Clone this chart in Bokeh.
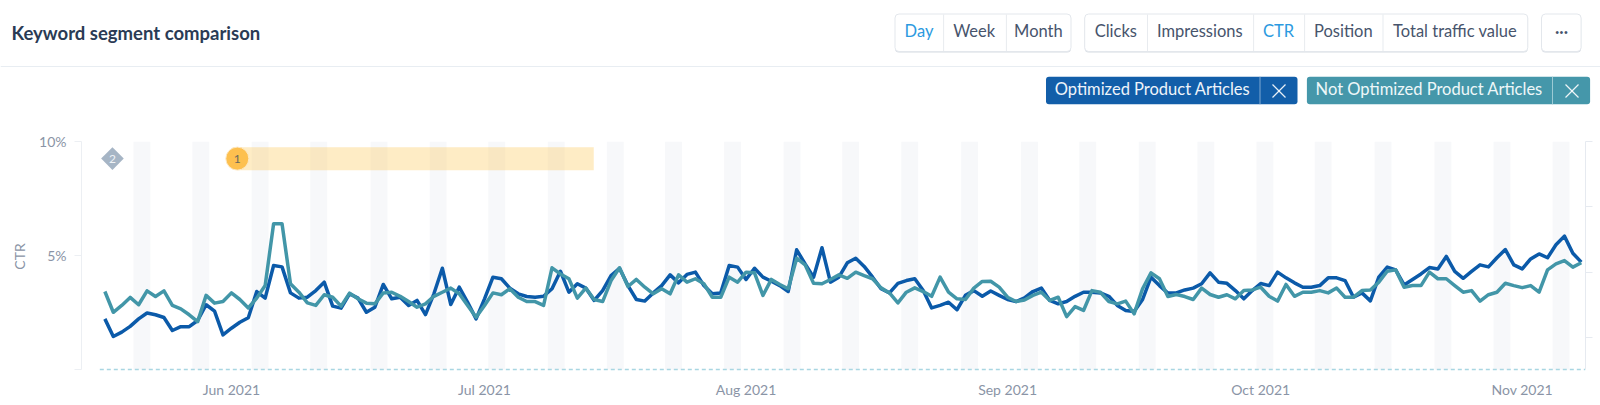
from bokeh.plotting import figure
from bokeh.layouts import column, row
from bokeh.models import (BoxAnnotation, Label, PolyAnnotation, Range1d, LinearAxis, FixedTicker)
from bokeh.core.properties import value
from bokeh.embed import file_html
from bokeh.resources import INLINE

# Days counted from 17 May 2021
month_ticks = [15, 45, 76, 107, 137, 168]
month_labels = ["Jun 2021", "Jul 2021", "Aug 2021", "Sep 2021", "Oct 2021", "Nov 2021"]
y_ticks = [0, 5, 10]
y_labels = ["", "5%", "10%"]
right_ticks = [1.4, 4.25, 7.15, 10]

optimized = [
    2.22,1.45,1.64,1.89,2.22,2.48,2.40,2.28,1.71,1.88,1.88,2.15,2.84,2.56,1.52,1.81,2.07,2.27,3.42,3.13,4.56,4.50,3.36,
    3.13,3.17,3.46,3.83,2.78,2.69,3.32,3.13,2.51,2.73,3.73,3.10,3.17,2.81,3.03,2.41,3.32,4.44,2.85,3.61,2.95,2.22,
    3.10,4.05,3.98,3.57,3.32,3.20,3.17,3.21,3.54,4.31,3.39,3.76,3.57,3.03,3.46,4.12,4.44,3.68,3.07,3.00,3.36,3.68,
    4.15,3.80,4.17,4.27,3.68,3.32,3.36,4.56,4.49,3.95,4.44,4.05,3.87,3.68,3.42,5.25,4.63,4.05,5.34,3.83,4.05,4.68,
    4.88,4.52,4.05,3.54,3.36,3.78,3.90,3.98,3.46,2.70,2.81,2.95,2.62,3.25,3.46,3.21,3.44,3.25,3.07,2.98,3.14,3.42,
    3.57,3.03,2.88,2.98,3.21,3.39,3.39,3.36,3.21,2.81,2.59,2.54,3.07,4.05,3.68,3.35,3.36,3.49,3.57,3.76,4.24,3.83,
    3.78,3.46,3.10,3.46,3.77,3.68,4.27,4.02,3.80,3.61,3.61,3.68,4.02,4.02,3.90,3.17,3.36,3.01,4.05,4.49,4.37,
    3.71,3.95,4.19,4.47,4.41,4.96,4.30,4.00,4.30,4.59,4.50,4.90,5.26,4.59,4.41,4.85,5.07,4.90,5.47,5.85,5.10,4.71,
]
not_optimized = [
    3.42,2.51,2.81,3.16,2.84,3.45,3.20,3.45,2.81,2.66,2.40,2.10,3.25,2.91,2.98,3.36,3.07,2.70,3.13,3.68,6.39,6.39,3.76,
    3.39,2.92,2.81,3.28,3.17,2.78,3.35,3.10,2.91,2.88,3.36,3.39,3.21,2.98,2.73,2.88,3.21,3.39,3.57,3.32,2.81,2.29,
    2.81,3.36,3.28,3.54,3.17,2.98,2.98,2.81,4.46,4.19,3.98,3.13,3.57,3.07,2.98,3.90,4.46,3.64,3.95,3.61,3.32,3.54,
    3.32,4.15,3.83,3.98,3.76,3.17,3.17,4.05,3.83,4.27,4.24,3.25,3.95,3.73,3.54,4.88,4.59,3.78,3.76,3.95,4.15,4.00,
    4.27,4.12,3.98,3.58,3.36,2.92,3.39,3.58,3.42,3.21,4.05,3.39,3.10,3.07,3.57,3.86,3.87,3.61,3.17,2.98,3.05,3.25,
    3.39,3.03,3.17,2.32,2.76,2.59,3.46,3.39,2.98,2.88,3.00,2.44,3.54,4.24,3.98,3.20,3.29,3.20,3.07,3.57,3.29,3.17,
    3.28,3.10,3.46,3.49,3.61,3.21,3.00,3.73,3.21,3.39,3.39,3.46,3.36,3.57,3.17,3.17,3.46,3.49,3.83,4.31,4.37,
    3.61,3.68,3.68,4.27,3.98,3.98,3.68,3.39,3.46,3.00,3.28,3.39,3.78,3.68,3.59,3.68,3.39,4.37,4.63,4.78,4.49,4.68,
]
days = list(range(len(optimized)))
baseline_x = [-0.6, 175.5]
baseline_y = [0, 0]

weekend_starts = [3.39,10.37,17.4,24.35,31.5,38.5,45.45,52.5,59.5,66.4,73.4,80.45,87.4,94.4,
                  101.5,108.6,115.5,122.55,129.5,136.5,143.4,150.5,157.6,164.6,171.6]
weekend_ends = [5.39,12.37,19.4,26.35,33.5,40.5,47.45,54.5,61.5,68.4,75.4,82.45,89.4,96.4,
                103.5,110.6,117.5,124.55,131.5,138.5,145.4,152.5,159.6,166.6,173.6]

event_start, event_end = 15.7, 57.95
event_top, event_bottom = 9.75, 8.74
marker_y = 9.25
FONT = "Lato"
GREY = "#8a94a6"
DARK = "#47546c"
ACTIVE = "#2b9ae0"

HEADER_H = 125
# Header strip: its ranges are the page's own pixels, y going down.
h = figure(width=1600, height=HEADER_H, output_backend="svg", toolbar_location=None,
           x_range=Range1d(0, 1600), y_range=Range1d(HEADER_H, 0),
           min_border=0, outline_line_color=None, background_fill_color="white", border_fill_color="white")
h.axis.visible = False
h.grid.visible = False

p = figure(width=1600, height=405 - HEADER_H, output_backend="svg", toolbar_location=None,
           x_range=Range1d(-2.77, 175.5), y_range=Range1d(-0.088, 10),
           min_border_left=81, min_border_right=15, min_border_top=141 - HEADER_H, min_border_bottom=34,
           outline_line_color=None, background_fill_color="white", border_fill_color="white")
p.grid.visible = False

p.xaxis.ticker = FixedTicker(ticks=month_ticks)
p.xaxis.major_label_overrides = dict(zip(month_ticks, month_labels))
p.xaxis.axis_line_color = None
p.xaxis.major_tick_line_color = None
p.xaxis.major_tick_in = 0
p.xaxis.major_tick_out = 0
p.xaxis.minor_tick_line_color = None
p.xaxis.major_label_text_color = GREY
p.xaxis.major_label_text_font = FONT
p.xaxis.major_label_text_font_size = "14px"
p.xaxis.major_label_standoff = 9

ya = p.yaxis[0]
ya.ticker = FixedTicker(ticks=y_ticks)
ya.major_label_overrides = dict(zip(y_ticks, y_labels))
ya.bounds = (0, 10)
ya.axis_line_color = "#eceff3"
ya.major_tick_line_color = "#eceff3"
ya.major_tick_in = 0
ya.major_tick_out = 7
ya.minor_tick_line_color = None
ya.major_label_text_color = GREY
ya.major_label_text_font = FONT
ya.major_label_text_font_size = "14px"
ya.major_label_standoff = 8
ya.axis_label = "CTR"
ya.axis_label_text_color = GREY
ya.axis_label_text_font = FONT
ya.axis_label_text_font_style = "normal"
ya.axis_label_text_font_size = "14px"
ya.axis_label_standoff = 8

ra = LinearAxis(ticker=FixedTicker(ticks=right_ticks), bounds=(0, 10))
ra.axis_line_color = "#e6eaf0"
ra.major_tick_line_color = "#e6eaf0"
ra.major_tick_in = 0
ra.major_tick_out = 7
ra.minor_tick_line_color = None
ra.major_label_text_color = None
ra.major_label_text_font_size = "0px"
p.add_layout(ra, "right")

p.quad(left=weekend_starts, right=weekend_ends, bottom=0, top=10, fill_color="#f7f8fa", line_color=None)
p.quad(left=[event_start], right=[event_end], bottom=[event_bottom], top=[event_top],
       fill_color="#fdc95f", fill_alpha=0.36, line_color=None)
p.line(baseline_x, baseline_y, line_color="#a9d6e2", line_width=1.5, line_dash="4 3")
p.line(days, optimized, line_color="#0b5aa9", line_width=3.5, line_join="round")
p.line(days, not_optimized, line_color="#4296a8", line_width=3.5, line_join="round")

p.scatter([0.9], [marker_y], marker="square", size=16, angle=0.785, fill_color="#a6b5c5", line_color=None)
p.text([0.9], [marker_y], text=["2"], text_color="#eef2f6", text_align="center", text_baseline="middle",
       text_font=value(FONT), text_font_size="12px")
p.scatter([15.7], [marker_y], marker="circle", size=23, fill_color="#fdc04f", line_color="#fde9c4", line_width=1)
p.text([15.7], [marker_y], text=["1"], text_color="#6b6a5e", text_align="center", text_baseline="middle",
       text_font=value(FONT), text_font_size="12px")


def box(l, t, r, b, fill, line=None, radius=0):
    h.add_layout(BoxAnnotation(left=l, right=r, top=t, bottom=b,
                               fill_color=fill, fill_alpha=1, line_color=line, line_alpha=1 if line else 0,
                               line_width=1, border_radius=radius))


def text(x, y, s, color=DARK, size="16.5px", align="center", style="normal"):
    h.add_layout(Label(x=x, y=y, text=s, text_color=color,
                       text_font=FONT, text_font_size=size, text_font_style=style,
                       text_align=align, text_baseline="middle"))


def stroke(x0, y0, x1, y1):
    h.add_layout(PolyAnnotation(xs=[x0, x1], ys=[y0, y1],
                                fill_alpha=0, line_color="white", line_alpha=0.9, line_width=1.2))


box(0, 65.5, 1600, 66.5, "#e8edf2")
text(11, 32.5, "Keyword segment comparison", color="#2a3b55", size="18.5px", align="left", style="bold")

for l, r, dividers in [(894.5, 1070.5, [942.6, 1005.4]),
                       (1084.2, 1527.3, [1146.5, 1252.6, 1303.6, 1382]),
                       (1541, 1580.6, [])]:
    box(l, 14.5, r, 52, "#d6dbe2", radius=4)
    box(l, 13.5, r, 51, "white", "#e3e7ec", radius=4)
    for d in dividers:
        box(d, 14, d + 1, 50.5, "#e8ebef")

for x, s, c in [(918.5, "Day", ACTIVE), (973.7, "Week", DARK), (1037.9, "Month", DARK),
                (1115.3, "Clicks", DARK), (1199.3, "Impressions", DARK), (1278, "CTR", ACTIVE),
                (1342.8, "Position", DARK), (1454.6, "Total traffic value", DARK)]:
    text(x, 30.5, s, c)
text(1561, 31.5, "•••", DARK, size="7.5px")

box(1045.5, 76.3, 1297, 103.7, "#125ea9", radius=3)
box(1259, 76.3, 1260, 103.7, "#7ea8d2")
text(1152, 88.5, "Optimized Product Articles", "#eef4fa")
stroke(1272, 84, 1285, 97)
stroke(1272, 97, 1285, 84)

box(1306.4, 76.3, 1589.6, 103.7, "#4597aa", radius=3)
box(1551.5, 76.3, 1552.5, 103.7, "#9ccad4")
text(1428.7, 88.5, "Not Optimized Product Articles", "#eef7f9")
stroke(1565, 84, 1578, 97)
stroke(1565, 97, 1578, 84)

page = column(row(h), p, spacing=0)
open("out.html", "w").write(file_html(page, INLINE))
